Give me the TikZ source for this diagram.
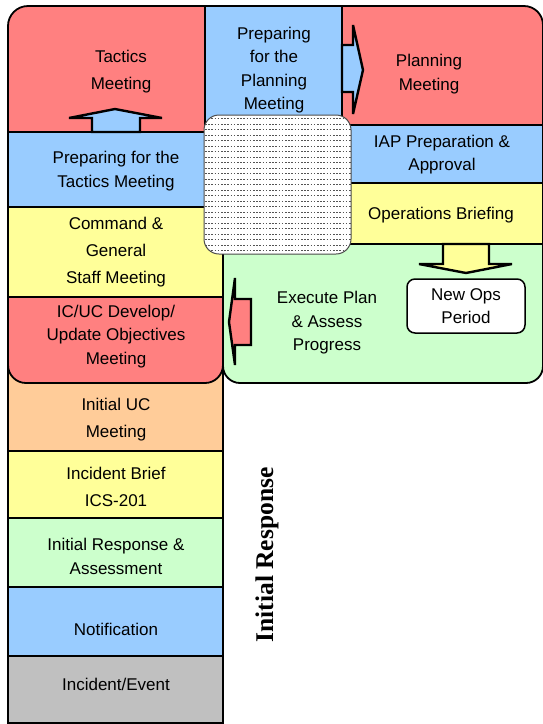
\documentclass[tikz,border=0pt]{standalone}
\usepackage{fontspec}
\setmainfont{Liberation Sans}
\newfontfamily\labelserif{Liberation Serif}
\definecolor{redbox}{RGB}{255,128,128}
\definecolor{bluebox}{RGB}{153,204,255}
\definecolor{yellowbox}{RGB}{255,255,153}
\definecolor{greenbox}{RGB}{204,255,204}
\definecolor{orangebox}{RGB}{255,204,153}
\definecolor{graybox}{RGB}{192,192,192}
\tikzset{
  boxline/.style={draw=black,line width=1.8pt},
  blockarrow/.style={draw=black,line width=2.4pt,line join=miter,miter limit=4},
  lbl/.style={align=center,inner sep=0pt,font=\fontsize{17}{23.5}\selectfont},
  lblwide/.style={lbl,font=\fontsize{17}{27}\selectfont}
}
\begin{document}
\begin{tikzpicture}[x=1pt,y=-1pt]
\useasboundingbox (0,0) rectangle (542,724);
% initial response column
\foreach \ya/\yb/\col in {360/451/orangebox,451/518/yellowbox,518/587/greenbox,587/656/bluebox,656/723/graybox}
  \draw[boxline,fill=\col] (8,\ya) rectangle (223,\yb);
% planning cycle
\draw[boxline,fill=redbox,rounded corners=20] (8,6) rectangle (230,160);
\draw[boxline,fill=redbox,rounded corners=19] (320,6) rectangle (543,150);
\draw[boxline,fill=bluebox] (205,6) rectangle (342,130);
\draw[boxline,fill=greenbox,rounded corners=17] (223,220) rectangle (543,383);
\draw[boxline,fill=bluebox] (342,125) rectangle (543,183);
\draw[boxline,fill=yellowbox] (342,183) rectangle (543,244);
\draw[boxline,fill=bluebox] (8,132) rectangle (205,207);
\draw[boxline,fill=redbox,rounded corners=18] (8,270) rectangle (223,383);
\draw[boxline,fill=yellowbox] (8,207) rectangle (223,297);
% hatched centre
\begin{scope}
\clip[rounded corners=15] (204,115) rectangle (351,254);
\fill[white] (204,115) rectangle (351,254);
\foreach \y in {118.5,124,...,252}
  \draw[gray!65!black,line width=0.8pt,dash pattern=on 1.6pt off 1.6pt] (205,\y) -- (351,\y);
\end{scope}
\draw[gray!60!black,line width=1pt,rounded corners=15] (204,115) rectangle (351,254);
% block arrows
\draw[blockarrow,fill=bluebox] (92,132) -- (92,118) -- (69,118) -- (115,109) -- (162,118) -- (140,118) -- (140,132) -- cycle;
\draw[blockarrow,fill=bluebox] (342,45) -- (353,45) -- (353,25) -- (363,70) -- (353,114) -- (353,92) -- (342,92) -- cycle;
\draw[blockarrow,fill=yellowbox] (443,244) -- (443,264) -- (419,264) -- (466,273) -- (512,264) -- (489,264) -- (489,244) -- cycle;
\draw[blockarrow,fill=redbox] (235,299) -- (251,299) -- (251,345) -- (235,345) -- (235,365) -- (229,322) -- (235,278) -- cycle;
% labels
\node[lblwide] (tactics) at (121,72) {Tactics\\Meeting};
\node[lbl] (prepplan) at (274,70) {Preparing\\for the\\Planning\\Meeting};
\node[lbl] (planning) at (429,74) {Planning\\Meeting};
\node[lbl] (preptac) at (116,171) {Preparing for the\\Tactics Meeting};
\node[lbl] (iap) at (442,154.5) {IAP Preparation \&\\Approval};
\node[lbl] (opsbrief) at (441,215) {Operations Briefing};
\node[lblwide] (cgs) at (116,252) {Command \&\\General\\Staff Meeting};
\node[lbl] (objectives) at (116,336.5) {IC/UC Develop/\\Update Objectives\\Meeting};
\node[lbl] (execute) at (327,323) {Execute Plan\\\& Assess\\Progress};
\node[lbl,draw=black,line width=1.5pt,fill=white,rounded corners=8,minimum width=118,minimum height=54] (newops) at (466,306) {New Ops\\Period};
\node[lblwide] (ucmeet) at (116,420) {Initial UC\\Meeting};
\node[lblwide] (brief) at (116,487) {Incident Brief\\ICS-201};
\node[lbl] (initresp) at (116,556.5) {Initial Response \&\\Assessment};
\node[lbl] (notif) at (116,629.5) {Notification};
\node[lbl] (incident) at (116,684.5) {Incident/Event};
\node[rotate=90,inner sep=0pt,font=\labelserif\bfseries\fontsize{25.5}{30}\selectfont] (irlabel) at (267,555) {Initial Response};
\end{tikzpicture}
\end{document}
